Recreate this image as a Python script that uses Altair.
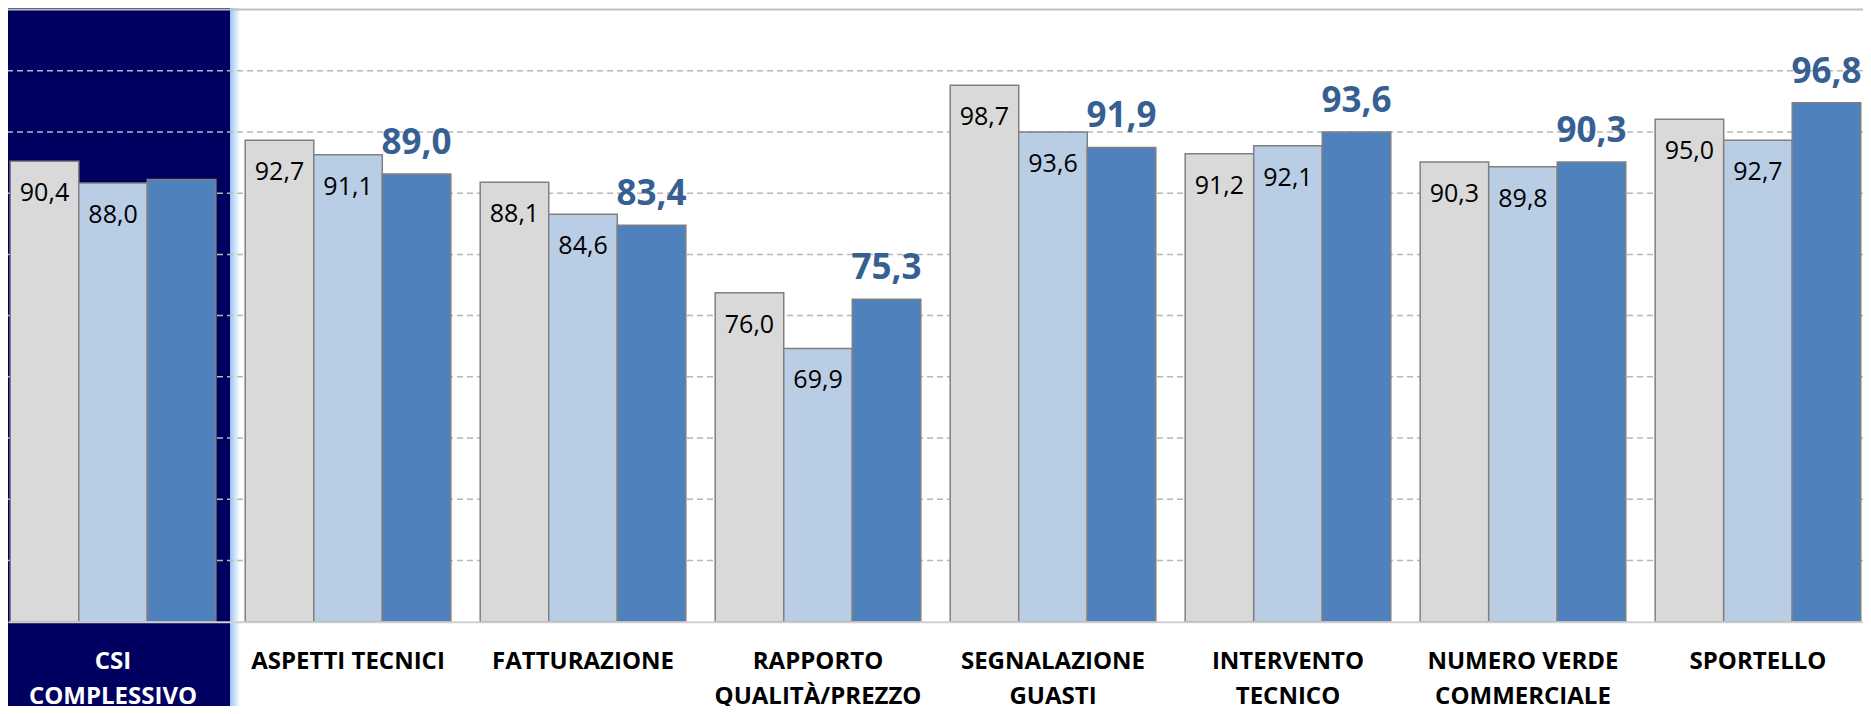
import altair as alt
import pandas as pd

categories = ["CSI\nCOMPLESSIVO", "ASPETTI TECNICI", "FATTURAZIONE", "RAPPORTO\nQUALITÀ/PREZZO",
              "SEGNALAZIONE\nGUASTI", "INTERVENTO\nTECNICO", "NUMERO VERDE\nCOMMERCIALE", "SPORTELLO"]
series_names = ["Rilevazione 1", "Rilevazione 2", "Rilevazione 3"]
values_1 = [90.4, 92.7, 88.1, 76.0, 98.7, 91.2, 90.3, 95.0]
values_2 = [88.0, 91.1, 84.6, 69.9, 93.6, 92.1, 89.8, 92.7]
values_3 = [88.4, 89.0, 83.4, 75.3, 91.9, 93.6, 90.3, 96.8]
grid_values = [46.7, 53.4, 60.1, 66.8, 73.5, 80.2, 86.9, 93.6, 100.3]
top_value = [107.0]
axis_min = 40.0

rows = []
for i, c in enumerate(categories):
    for s, vals in zip(series_names, [values_1, values_2, values_3]):
        rows.append({"category": c, "series": s, "value": vals[i], "first": i == 0})
df = pd.DataFrame(rows)

W = 1855
H = 612.2

xscale = alt.Scale(domain=categories, paddingInner=0.125, paddingOuter=0.0095)
yscale = alt.Scale(domain=[axis_min, top_value[0]], nice=False, zero=False)
offscale = alt.Scale(domain=series_names, paddingInner=0, paddingOuter=0)

xaxis = alt.Axis(
    title=None, labelAngle=0, ticks=False, grid=False, zindex=1,
    domain=True, domainColor="#D0D0D0", domainWidth=2,
    labelFont="Open Sans", labelFontWeight="bold", labelFontSize=24,
    labelLineHeight=35, labelPadding=28, labelLimit=0,
    labelExpr="split(datum.label, '\\n')",
    labelColor={"condition": {"test": "datum.index == 0", "value": "white"}, "value": "black"},
)
X = alt.X("category:N", scale=xscale, axis=xaxis)

base = alt.Chart(df)
first_df = df[df["first"]].drop_duplicates("category")

navy = alt.Chart(first_df).mark_bar(color="#000060", width={"band": 1.143}).encode(
    x=X, y=alt.value(-10), y2=alt.value(H + 120)
)
glow = alt.Chart(first_df).mark_bar(
    width=10, xOffset=122,
    color={"gradient": "linear", "x1": 0, "x2": 1, "y1": 0, "y2": 0,
           "stops": [{"offset": 0, "color": "#9CC3F2"}, {"offset": 1, "color": "#FFFFFF"}]},
).encode(x=X, y=alt.value(-10), y2=alt.value(H + 120))

grid = alt.Chart(pd.DataFrame({"v": grid_values})).mark_rule(
    color="#B8B8B8", strokeWidth=1.5, strokeDash=[6, 4]
).encode(y=alt.Y("v:Q", scale=yscale, axis=None))
top = alt.Chart(pd.DataFrame({"v": top_value})).mark_rule(
    color="#BFBFBF", strokeWidth=2
).encode(y=alt.Y("v:Q", scale=yscale, axis=None))

bars = base.mark_bar(stroke="#808080", strokeWidth=1.5).encode(
    x=X,
    xOffset=alt.XOffset("series:N", scale=offscale),
    y=alt.Y("value:Q", scale=yscale, axis=None),
    y2=alt.datum(axis_min),
    color=alt.Color("series:N", scale=alt.Scale(domain=series_names,
                    range=["#D9D9D9", "#B9CDE5", "#4F81BD"]), legend=None),
)

lab = base.transform_calculate(
    txt="replace(format(datum.value, '.1f'), '.', ',')"
)
inner = lab.transform_filter("datum.series != 'Rilevazione 3'").mark_text(
    font="Open Sans", fontSize=25, color="black", baseline="top", dy=20
).encode(
    x=X, xOffset=alt.XOffset("series:N", scale=offscale),
    y=alt.Y("value:Q", scale=yscale, axis=None), text="txt:N"
)
outer = lab.transform_filter("datum.series == 'Rilevazione 3' && !datum.first").mark_text(
    font="Open Sans", fontSize=35, fontWeight="bold", color="#376092", baseline="alphabetic", dy=-20
).encode(
    x=X, xOffset=alt.XOffset("series:N", scale=offscale),
    y=alt.Y("value:Q", scale=yscale, axis=None), text="txt:N"
)

chart = alt.layer(navy, glow, grid, top, bars, inner, outer).properties(
    width=W, height=H,
    autosize=alt.AutoSizeParams(type="none"),
    padding={"left": 0, "right": 0, "top": 1.5, "bottom": 84.3},
    background="white",
).configure_view(stroke=None)

chart.save("out.html", embed_options={"renderer": "svg", "actions": False})
